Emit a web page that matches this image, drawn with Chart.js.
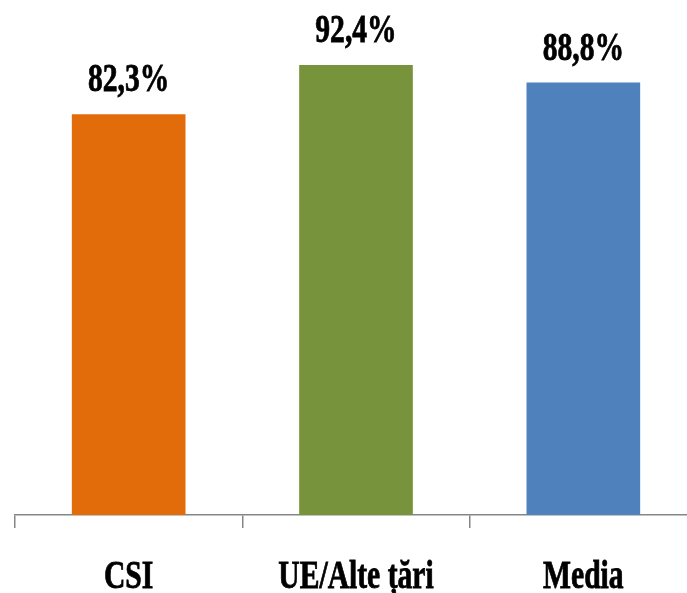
<!DOCTYPE html>
<html>
<head>
<meta charset="utf-8">
<script src="https://cdn.jsdelivr.net/npm/chart.js@4"></script>
<style>
  html, body { margin: 0; padding: 0; background: #fff; }
  #wrap { width: 687px; height: 593px; overflow: hidden; }
</style>
</head>
<body>
<div id="wrap"><canvas id="chart" width="712" height="593"></canvas></div>
<script>
const categories = ['CSI', 'UE/Alte țări', 'Media'];
const values = [82.3, 92.4, 88.8];
const barColors = ['#E36C0A', '#77933C', '#4F81BD'];

// the original text is narrow and heavy, so squeeze it and thicken a bit
const SQUEEZE = 0.74;

function drawSqueezed(ctx, text, x, y) {
  ctx.save();
  ctx.translate(x, y);
  ctx.scale(SQUEEZE, 1);
  ctx.fillText(text, 0, 0);
  ctx.strokeText(text, 0, 0);
  ctx.restore();
}

const textPlugin = {
  id: 'squeezedText',
  afterDatasetsDraw(chart) {
    const ctx = chart.ctx;
    const meta = chart.getDatasetMeta(0);
    const xs = chart.scales.x;
    ctx.save();
    ctx.fillStyle = '#000';
    ctx.strokeStyle = '#000';
    ctx.lineWidth = 0.8;
    ctx.textAlign = 'center';
    ctx.textBaseline = 'alphabetic';
    ctx.font = 'bold 40px "Liberation Serif"';
    meta.data.forEach((bar, i) => {
      const txt = values[i].toFixed(1).replace('.', ',') + '%';
      drawSqueezed(ctx, txt, bar.x, bar.y - 23);
    });
    categories.forEach((c, i) => {
      drawSqueezed(ctx, c, xs.getPixelForValue(i), chart.chartArea.bottom + 73);
    });
    ctx.restore();
  }
};

const ctx = document.getElementById('chart').getContext('2d');
const chart = new Chart(ctx, {
  type: 'bar',
  data: {
    labels: categories,
    datasets: [{
      data: values,
      backgroundColor: barColors,
      borderWidth: 0,
      barPercentage: 0.5,
      categoryPercentage: 1.0
    }]
  },
  options: {
    responsive: false,
    animation: false,
    layout: { padding: { left: 15, right: 15, top: 28, bottom: 65 } },
    plugins: { legend: { display: false }, tooltip: { enabled: false } },
    scales: {
      x: {
        grid: { display: true, offset: true, drawOnChartArea: false, drawTicks: true, tickLength: 13, color: '#868686', lineWidth: 1.5 },
        border: { display: true, color: '#868686', width: 1.5 },
        ticks: { display: false }
      },
      y: {
        display: false,
        min: 0,
        max: 100
      }
    }
  },
  plugins: [textPlugin]
});
</script>
</body>
</html>
